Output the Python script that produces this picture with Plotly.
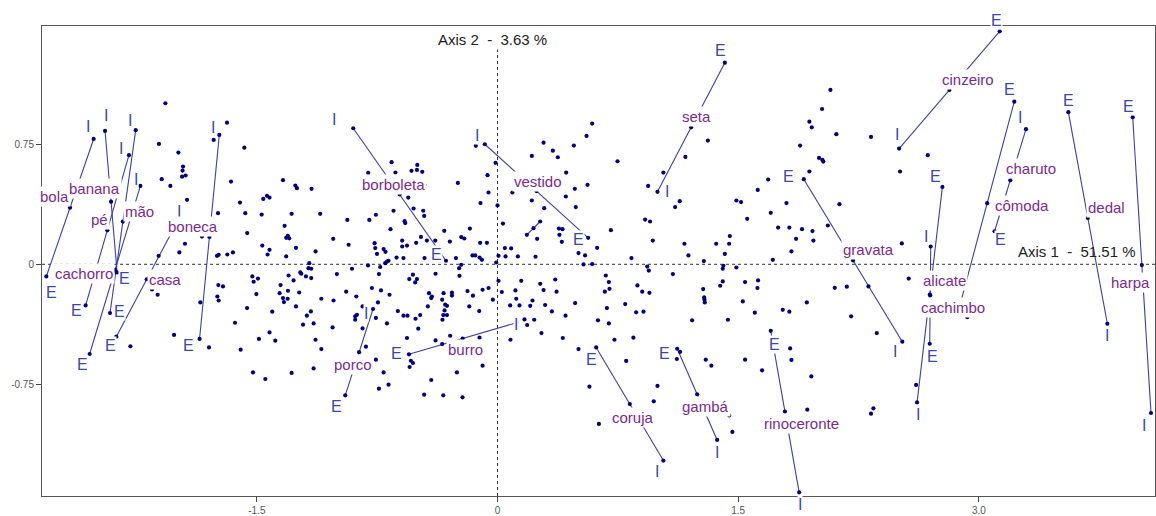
import plotly.graph_objects as go

# ---------------- data ----------------
words = ["bola", "banana", "mão", "pé", "cachorro", "boneca", "casa", "borboleta", "vestido",
         "seta", "burro", "porco", "gravata", "coruja", "gambá", "rinoceronte", "cinzeiro",
         "alicate", "cachimbo", "charuto", "cômoda", "dedal", "harpa"]

I_x = [-2.517, -2.446, -2.255, -2.226, -2.297, -1.734, -1.996, -0.899, -0.079, 0.997, 0.117, -0.776,
       2.523, 1.034, 1.369, 1.880, 2.503, 2.615, 2.700, 3.294, 2.883, 3.801, 4.073]
I_y = [0.782, 0.832, 0.837, 0.489, 0.681, 0.807, 0.265, 0.849, 0.749, 0.452, -0.365, -0.279,
       -0.483, -1.225, -1.096, -1.423, 0.722, -0.862, 0.111, 0.843, -0.252, -0.371, -0.928]
E_x = [-2.812, -2.371, -2.415, -2.542, -2.567, -1.857, -2.376, -0.321, 0.565, 1.417, -0.552, -0.949,
       1.909, 0.615, 1.120, 1.703, 3.130, 2.773, 2.694, 3.098, 3.221, 3.558, 3.959]
E_y = [-0.076, -0.051, -0.304, -0.560, -0.257, -0.466, -0.452, 0.022, 0.165, 1.258, -0.562, -0.818,
       0.531, -0.519, -0.527, -0.415, 1.454, 0.483, -0.496, 0.206, 1.015, 0.949, 0.918]

# word label positions
label_x = [-2.760, -2.513, -2.232, -2.482, -2.575, -1.896, -2.070, -0.650, 0.254, 1.238, -0.201, -0.899,
           2.310, 0.845, 1.294, 1.892, 2.933, 2.783, 2.839, 3.325, 3.269, 3.793, 3.948]
label_y = [0.421, 0.471, 0.327, 0.277, -0.059, 0.234, -0.092, 0.496, 0.514, 0.920, -0.533, -0.627,
           0.090, -0.957, -0.888, -0.994, 1.156, -0.103, -0.268, 0.595, 0.365, 0.355, -0.115]

# "I" / "E" letter positions
LI_x = [-2.552, -2.442, -2.293, -2.251, -2.345, -1.773, -1.988, -1.022, -0.128, 1.055, 0.118, -0.818,
        2.478, 0.997, 1.367, 1.886, 2.488, 2.623, 2.671, 3.257, None, 3.801, 4.029]
LI_y = [0.857, 0.926, 0.897, 0.527, 0.720, 0.855, 0.329, 0.901, 0.801, 0.454, -0.377, -0.309,
        -0.544, -1.292, -1.177, -1.499, 0.807, -0.938, 0.173, 0.918, None, -0.446, -1.007]
LE_x = [-2.779, -2.324, -2.355, -2.588, -2.621, -1.923, -2.413, -0.382, 0.505, 1.388, -0.631, -1.005,
        1.816, 0.588, 1.039, 1.726, 3.111, 2.727, 2.710, 3.136, 3.194, 3.558, 3.931]
LE_y = [-0.175, -0.089, -0.294, -0.627, -0.290, -0.506, -0.506, 0.059, 0.153, 1.337, -0.558, -0.890,
        0.547, -0.595, -0.554, -0.498, 1.524, 0.547, -0.575, 0.157, 1.092, 1.021, 0.984]

# an unlabeled pair
pair_x = [0.266, 0.183]
pair_y = [0.267, 0.184]

# the cloud of individuals
cloud_x = [
    -2.070, -2.110, -1.989, -2.093, -2.039, -1.960, -1.963, -1.966, -1.944, -1.769,
    -1.686, -1.578, -1.661, -1.337, -1.260, -1.250, -1.935,
    -2.112, -1.983, -1.948, -2.153, -2.118, -2.288, -2.016, -1.798, -1.852, -1.842,
    -1.748, -1.738, -1.684, -1.649, -1.740, -1.711, -1.746, -1.738, -1.561, -1.636,
    -1.601, -1.524, -1.447, -1.283, -1.742, -1.605, -1.572, -1.470, -1.560, -1.460,
    -1.437, -1.421, -1.283, -1.327, -1.317, -1.298, -1.307, -1.466, -1.421, -1.433,
    -1.256, -1.317, -1.528, -1.493, -1.520, -1.503, -1.302, -1.271, -1.352, -1.358,
    -1.306, -1.337, -1.308, -1.331, -1.256, -1.404, -1.421, -1.385, -1.487,
    -0.135, -0.012, 0.287, 0.345, 0.376, 0.476, 0.214, 0.428, 0.482, 0.488,
    0.426, 0.291, 0.214, 0.093, -0.056, -0.062, -0.106, -0.247, 0.000, 0.034,
    0.247, 0.383, 0.405, 0.386, 0.401, 0.237, 0.046, 0.085, -0.066, -0.108,
    -0.172, -0.226, -0.207, -0.297, -0.332, -0.388, -0.440, -0.477, -0.507, -0.564,
    -0.594, -0.594, -0.667, -0.648, -0.579, -0.575, -0.463, -0.457, -0.523, -0.556,
    -0.660, -0.636, -0.806, -0.536, -0.500, -0.502, -0.469, -0.455, -0.758, -0.799,
    -0.936, -1.024, -0.928, -0.766, -0.762, -0.710, -0.698, -1.134, -1.105, -1.159,
    -0.629, -0.586, -0.455, -0.259, -0.156, -0.139, -0.112, 0.006, 0.050, 0.127,
    -0.751, -0.226, -0.239, -0.237, -0.097, -0.008, 0.505, -0.807, -0.731, -0.700,
    -0.689, -0.679, -1.173, -1.161, -1.178, -0.907, -1.229, -1.223, -1.194, -1.161,
    -1.001, -0.739, -0.550, -0.527, -0.513, -0.502, -0.386, -1.236, -1.098, -1.022,
    -0.943, -0.880, -0.783, -0.726, -0.673, -0.745, -0.841, -1.163, -1.188, -1.212,
    -1.146, -1.028, -1.134, -1.098, -0.887, -0.887, -0.876, -0.841, -0.758, -0.689,
    -0.621, -0.586, -0.561, -0.511, -0.482, -0.494, -0.427, -0.409, -0.413, -0.434,
    -0.336, -0.345, -0.326, -0.315, -0.330, -0.284, -0.284, -0.187, -0.153, -0.176,
    -0.114, -0.093, -0.056, -0.029, 0.006, 0.027, 0.148, 0.112, 0.117, 0.079,
    0.137, 0.266, 0.287, 0.368, 0.360, 0.218, 0.204, 0.297, 0.339, 0.484,
    0.168, 0.185, 0.229, 0.274, 0.407, 0.424, 0.505, 0.081, -0.338, -0.315,
    -0.343, -0.564, -0.386, -0.345, -0.295, -0.112, -0.540, -0.527, -0.548, -0.093,
    -0.820, -0.758, -0.710, -0.679, -0.739, -1.146, -0.413, -0.457, -0.338, -0.218,
    -0.253, 1.311, 1.171, 1.034, 0.939, 1.136, 1.107, 0.920, 0.951, 0.968,
    1.165, 1.190, 1.363, 1.444, 1.448, 1.417, 0.835, 0.707, 0.621, 0.555,
    0.590, 0.561, 0.748, 0.546, 2.075, 2.023, 1.944, 1.959, 2.112, 1.886,
    2.004, 2.025, 2.031, 1.944, 1.687, 1.622, 1.489, 1.518, 1.703, 1.801,
    2.131, 1.556, 1.749, 1.819, 1.898, 1.963, 1.861, 1.969, 2.059, 1.832,
    0.536, 0.590, 0.933, 0.943, 1.093, 1.286, 1.408, 1.404, 1.489, 1.716,
    0.675, 0.694, 0.698, 0.669, 0.682, 0.626, 0.694, 0.796, 0.872, 0.902,
    0.947, 0.864, 0.910, 0.729, 0.847, 0.802, 0.573, 0.632, 0.997, 0.974,
    1.213, 1.282, 1.288, 1.290, 1.292, 1.388, 1.404, 1.436, 1.298, 1.333,
    1.138, 1.118, 1.444, 1.464, 1.529, 1.543, 1.624, 1.620, 1.604, 1.543,
    1.649, 1.778, 1.819, 1.824, 1.832, 1.928, 1.956, 1.931, 2.102, 2.177,
    2.204, 2.328, 2.682, 2.509, 2.520, 2.312, 2.364, 2.563, 2.328, 2.343,
    2.609, 2.928,
]
cloud_y = [
    1.005, 0.751, 0.697, 0.531, 0.489, 0.610, 0.585, 0.547, 0.554, 0.776,
    0.884, 0.728, 0.516, 0.525, 0.491, 0.475, 0.402,
    0.053, 0.074, 0.128, -0.157, -0.190, -0.512, -0.441, -0.519, -0.238, 0.173,
    0.053, 0.059, 0.061, 0.074, -0.130, -0.138, -0.201, -0.226, -0.273, -0.365,
    -0.533, -0.675, -0.716, -0.678, 0.319, 0.385, 0.319, 0.310, 0.195, 0.408,
    0.427, 0.416, 0.315, 0.240, 0.165, 0.162, 0.178, 0.117, 0.090, 0.061,
    0.103, 0.049, -0.076, -0.089, -0.109, -0.186, -0.070, -0.101, -0.130, -0.180,
    -0.165, -0.211, -0.215, -0.236, -0.263, -0.296, -0.425, -0.477, -0.466,
    0.739, 0.633, 0.759, 0.709, 0.668, 0.741, 0.676, 0.572, 0.471, 0.357,
    0.423, 0.350, 0.398, 0.448, 0.448, 0.556, 0.382, 0.508, 0.367, 0.254,
    0.159, 0.223, 0.219, 0.184, 0.140, 0.047, 0.101, 0.099, 0.134, 0.134,
    0.223, 0.170, 0.161, 0.142, 0.209, 0.148, 0.148, 0.171, 0.134, 0.117,
    0.111, 0.148, 0.219, 0.334, 0.269, 0.257, 0.334, 0.302, 0.348, 0.416,
    0.637, 0.572, 0.570, 0.583, 0.620, 0.589, 0.577, 0.496, 0.309, 0.277,
    0.277, 0.159, 0.122, 0.132, 0.101, 0.095, 0.078, 0.080, 0.315, 0.471,
    0.042, 0.039, 0.039, 0.039, 0.055, 0.055, 0.042, 0.053, 0.049, 0.049,
    0.065, -0.003, -0.024, -0.072, 0.028, 0.011, 0.070, -0.007, -0.017, 0.007,
    0.017, 0.022, 0.007, -0.028, -0.024, -0.028, -0.051, -0.059, -0.076, -0.086,
    -0.061, -0.061, -0.092, -0.065, -0.113, -0.092, -0.059, -0.176, -0.215, -0.226,
    -0.171, -0.201, -0.148, -0.163, -0.190, -0.238, -0.263, -0.294, -0.321, -0.377,
    -0.369, -0.394, -0.471, -0.529, -0.325, -0.346, -0.315, -0.400, -0.335, -0.369,
    -0.292, -0.321, -0.321, -0.340, -0.317, -0.402, -0.180, -0.201, -0.211, -0.263,
    -0.180, -0.221, -0.252, -0.259, -0.288, -0.176, -0.195, -0.167, -0.196, -0.263,
    -0.292, -0.159, -0.148, -0.221, -0.103, -0.173, -0.103, -0.163, -0.215, -0.257,
    -0.257, -0.122, -0.161, -0.171, -0.095, -0.226, -0.259, -0.254, -0.294, -0.242,
    -0.344, -0.379, -0.346, -0.429, -0.460, -0.321, -0.529, -0.471, -0.317, -0.317,
    -0.346, -0.460, -0.475, -0.498, -0.446, -0.458, -0.602, -0.616, -0.641, -0.633,
    -0.514, -0.595, -0.675, -0.751, -0.776, -0.650, -0.722, -0.814, -0.818, -0.830,
    -0.675, 0.772, 0.670, 0.572, 0.489, 0.394, 0.357, 0.279, 0.267, 0.148,
    0.128, 0.055, 0.128, 0.128, 0.176, 0.065, 0.039, 0.213, 0.103, 0.801,
    0.878, 0.496, 0.643, 0.055, 1.088, 0.969, 0.890, 0.855, 0.812, 0.741,
    0.664, 0.651, 0.641, 0.579, 0.529, 0.464, 0.398, 0.388, 0.321, 0.382,
    0.375, 0.284, 0.229, 0.229, 0.219, 0.207, 0.159, 0.148, 0.242, 0.080,
    -0.001, 0.001, -0.014, -0.039, -0.061, 0.020, -0.009, -0.028, -0.020, 0.028,
    -0.070, -0.111, -0.153, -0.171, -0.273, -0.350, -0.369, -0.248, -0.132, -0.171,
    -0.178, -0.300, -0.296, -0.471, -0.458, -0.603, -0.764, -0.996, -0.759, -0.855,
    -0.350, -0.155, -0.207, -0.221, -0.238, -0.134, -0.107, -0.346, -0.595, -0.633,
    -0.546, -0.591, -0.943, -1.046, -0.232, -0.111, -0.101, -0.148, -0.302, -0.595,
    -0.662, -0.284, -0.296, -0.525, -0.597, -0.238, -0.700, -0.907, -0.147, -0.140,
    -0.325, 0.795, 0.681, 0.579, 0.130, -0.138, -0.429, -0.089, -0.932, -0.899,
    -0.753, -0.330,
]

x_ticks = [-1.5, 0, 1.5, 3.0]
x_ticktext = ["-1.5", "0", "1.5", "3.0"]
y_ticks = [-0.75, 0, 0.75]
y_ticktext = ["-0.75", "0", "0.75"]
axis1_title = "Axis 1\u00a0\u00a0-\u00a0\u00a051.51 %"
axis2_title = "Axis 2\u00a0\u00a0-\u00a0\u00a03.63 %"

# ---------------- style ----------------
FONT = "Arial, 'Liberation Sans', sans-serif"
DOT = "#00007f"
LINE = "#3f3f9e"
WORD_COL = "#7a2b8c"
LETTER_COL = "#3a4aa6"
XR = [-2.839, 4.098]
YR = [-1.446, 1.487]
W, H = 1156, 516
M = dict(l=42, r=1, t=26, b=20)
PX_PER_Y = (H - M["t"] - M["b"]) / (YR[1] - YR[0])

fig = go.Figure()

# segments I - E
seg_x, seg_y = [], []
for k in range(len(words)):
    seg_x += [I_x[k], E_x[k], None]
    seg_y += [I_y[k], E_y[k], None]
seg_x += [pair_x[0], pair_x[1], None]
seg_y += [pair_y[0], pair_y[1], None]
fig.add_trace(go.Scatter(x=seg_x, y=seg_y, mode="lines",
                         line=dict(color=LINE, width=1.1), hoverinfo="skip",
                         showlegend=False, cliponaxis=False))

# dots: cloud + endpoints + centroids
mid_x = [(a + b) / 2 for a, b in zip(I_x, E_x)] + [(pair_x[0] + pair_x[1]) / 2]
mid_y = [(a + b) / 2 for a, b in zip(I_y, E_y)] + [(pair_y[0] + pair_y[1]) / 2]
all_x = cloud_x + I_x + E_x + pair_x + mid_x
all_y = cloud_y + I_y + E_y + pair_y + mid_y
fig.add_trace(go.Scatter(x=all_x, y=all_y, mode="markers",
                         marker=dict(color=DOT, size=4.2, line=dict(width=0)),
                         showlegend=False, cliponaxis=False, hoverinfo="skip"))

# zero lines
fig.add_shape(type="line", x0=XR[0], x1=XR[1], y0=0, y1=0, xref="x", yref="y",
              line=dict(color="#333", width=1, dash="3px,3px"), layer="below")
fig.add_shape(type="line", x0=0, x1=0, y0=YR[0], y1=1.35, xref="x", yref="y",
              line=dict(color="#333", width=1, dash="3px,3px"), layer="below")


def text_at(x, y, text, font, **kw):
    # annotations whose anchor is outside the axis range are hidden by plotly,
    # so clamp the anchor and shift by the remaining pixels
    yc = min(max(y, YR[0]), YR[1])
    return dict(x=x, y=yc, yshift=(y - yc) * PX_PER_Y, text=text, showarrow=False,
                xref="x", yref="y", font=font, **kw)


ann = []
letter_font = dict(family=FONT, size=16, color=LETTER_COL)
for k in range(len(words)):
    if LI_x[k] is not None:
        ann.append(text_at(LI_x[k], LI_y[k], "I", letter_font, bgcolor="white", borderpad=0))
    ann.append(text_at(LE_x[k], LE_y[k], "E", letter_font, bgcolor="white", borderpad=0))
word_font = dict(family=FONT, size=15, color=WORD_COL)
for k in range(len(words)):
    ann.append(text_at(label_x[k], label_y[k], words[k], word_font, bgcolor="white", borderpad=1))
ann.append(text_at(-0.030, 1.400, axis2_title, dict(family=FONT, size=15, color="#222"),
                   bgcolor="white"))
ann.append(text_at(3.610, 0.081, axis1_title, dict(family=FONT, size=15, color="#222")))

fig.update_layout(
    width=W, height=H,
    margin=M,
    paper_bgcolor="white", plot_bgcolor="white",
    showlegend=False,
    hovermode=False,
    annotations=ann,
    xaxis=dict(range=XR, showgrid=False, zeroline=False, showline=True, mirror=True,
               linecolor="#555", linewidth=1, ticks="outside", ticklen=5, tickcolor="#444",
               tickvals=x_ticks, ticktext=x_ticktext,
               tickfont=dict(family=FONT, size=10, color="#555")),
    yaxis=dict(range=YR, showgrid=False, zeroline=False, showline=True, mirror=True,
               linecolor="#555", linewidth=1, ticks="outside", ticklen=5, tickcolor="#444",
               tickvals=y_ticks, ticktext=y_ticktext,
               tickfont=dict(family=FONT, size=10, color="#555")),
)

# remove the default 8px page margin so the figure fills the window exactly
fig.write_html("out.html",
               config={"displayModeBar": False},
               post_script="document.body.style.margin='0';document.body.style.overflow='hidden';")
